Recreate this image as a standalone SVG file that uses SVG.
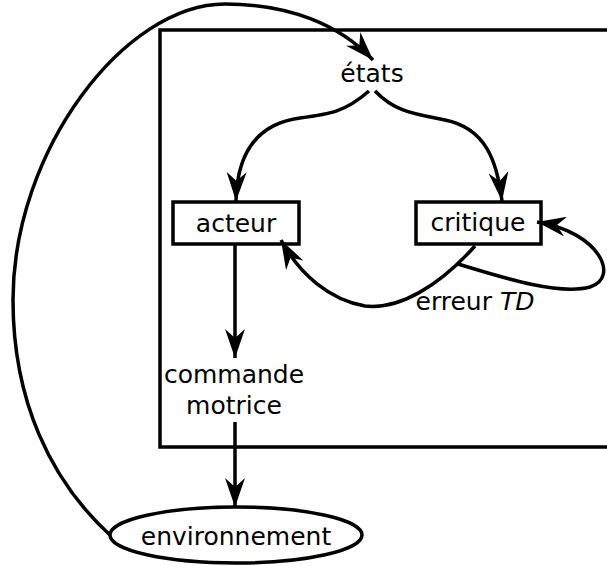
<svg xmlns="http://www.w3.org/2000/svg" width="607" height="566" viewBox="0 0 607 566">
<style>
.l{fill:none;stroke:#000;stroke-width:3.5}
.b{fill:#fff;stroke:#000;stroke-width:3.5}
text{font-family:"DejaVu Sans",sans-serif;font-size:25px;fill:#000;text-anchor:middle}
</style>
<defs>
<marker id="a" markerUnits="userSpaceOnUse" markerWidth="30" markerHeight="20" refX="29" refY="10" orient="auto" viewBox="0 0 30 20">
<path d="M0,0 L29,10 L0,20 L9,10 z" fill="#000"/>
</marker>
</defs>
<rect x="160" y="30" width="500" height="417" class="l"/>
<g id="etats"><text x="372" y="82">états</text></g>
<g id="acteur"><rect x="173" y="202" width="126" height="42" class="b"/><text x="236" y="232">acteur</text></g>
<g id="critique"><rect x="416" y="202" width="125" height="42" class="b"/><text x="478" y="231">critique</text></g>
<g id="erreur"><text x="475" y="310">erreur <tspan font-style="italic">TD</tspan></text></g>
<g id="commande"><text x="234" y="383">commande</text><text x="234" y="414">motrice</text></g>
<g id="environnement"><ellipse cx="236" cy="535" rx="126" ry="28" class="b"/><text x="236" y="545">environnement</text></g>
<g id="connectors">
<path class="l" d="M110,535 C50,480 13,400 13,300 C13,150 125,4 225,4 C290,4 340,25 373,60" marker-end="url(#a)"/>
<path class="l" d="M369,91 C345,112 330,114 300,118 C255,124 237,155 236,201" marker-end="url(#a)"/>
<path class="l" d="M375,91 C395,112 415,114 445,120 C485,128 497,160 502,201" marker-end="url(#a)"/>
<path class="l" d="M475,246 C440,285 400,310 365,306 C330,300 300,275 281,240" marker-end="url(#a)"/>
<path class="l" d="M458,264 C510,280 560,295 590,287 C620,278 600,232 537,222" marker-end="url(#a)"/>
<path class="l" d="M235,244 L235,358" marker-end="url(#a)"/>
<path class="l" d="M235,422 L235,507" marker-end="url(#a)"/>
</g>
</svg>
